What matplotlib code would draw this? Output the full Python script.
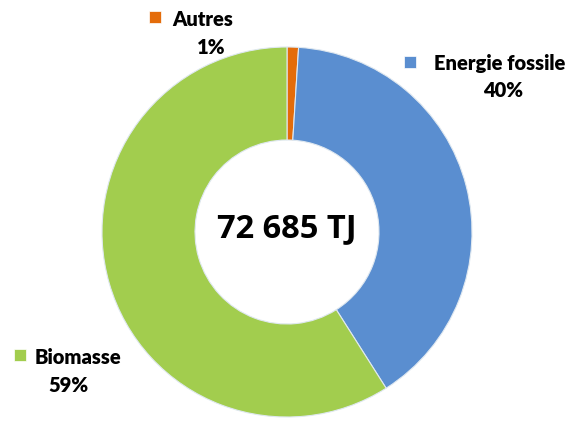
import matplotlib.pyplot as plt

# energy mix shares (%)
categories = ['Autres', 'Energie fossile', 'Biomasse']
shares = [1, 40, 59]
colors = ['#E46C0A', '#5A8ED0', '#A2CD4E']
total_label = '72 685 TJ'

W, H = 587, 425
fig = plt.figure(figsize=(W / 100, H / 100), dpi=100)
ax = fig.add_axes([0, 0, 1, 1])

cx, cy = 287, H - 232
ax.pie(shares, colors=colors, startangle=90, counterclock=False,
       center=(cx, cy), radius=185, frame=True,
       wedgeprops=dict(width=93, edgecolor='#dfe8f0', linewidth=0.8))
ax.set_xlim(0, W)
ax.set_ylim(0, H)
ax.axis('off')

ax.text(cx, cy + 3, total_label, ha='center', va='center',
        fontsize=23.5, fontweight='bold', family='Open Sans')

font = dict(fontsize=14.5, fontweight='heavy', family='Lato')
# label positions: (marker x, marker y, name x, name y, pct x, pct y)
spots = [
    (155, 17, 172, 19, 211, 47),
    (410, 62, 434, 63, 503, 90),
    (20, 355, 35, 357, 68, 385),
]
for name, val, col, (mx, my, nx, ny, px, py) in zip(categories, shares, colors, spots):
    ax.scatter([mx], [H - my], marker='s', s=75, color=col,
               edgecolors='#ffffff', linewidths=0.5)
    ax.text(nx, H - ny, name, ha='left', va='center', **font)
    ax.text(px, H - py, f'{val}%', ha='center', va='center', **font)

fig.savefig('out.png', dpi=100)
